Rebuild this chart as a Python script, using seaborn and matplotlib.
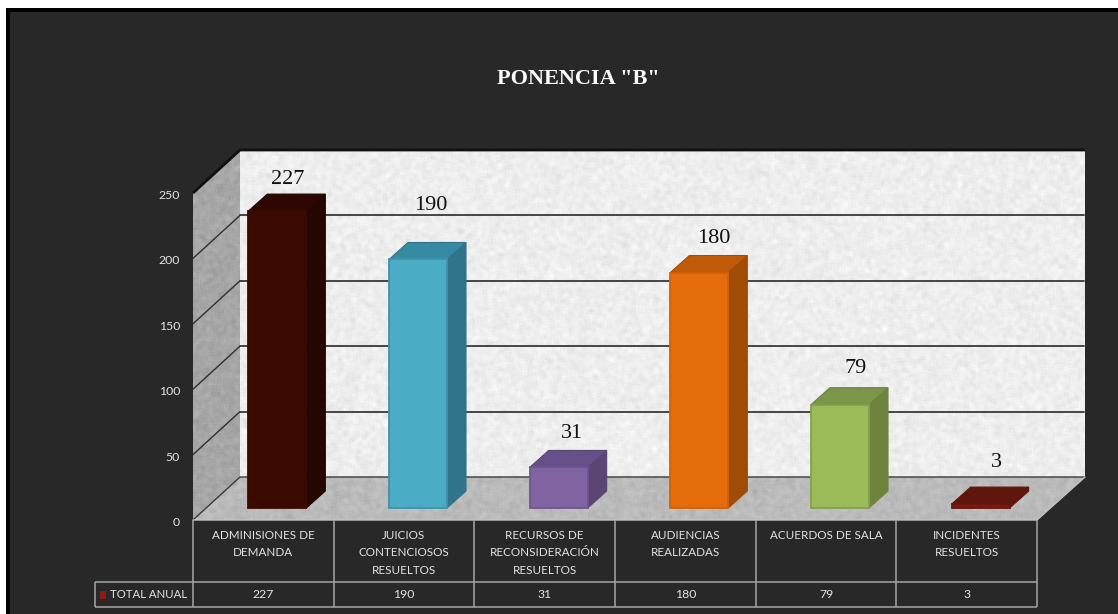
import numpy as np
import pandas as pd
import matplotlib
matplotlib.use("Agg")
import matplotlib.pyplot as plt
from matplotlib.patches import Polygon, Rectangle
from matplotlib.transforms import Affine2D
import seaborn as sns

# ---- data ----
categories = ["ADMINISIONES DE\nDEMANDA", "JUICIOS\nCONTENCIOSOS\nRESUELTOS",
              "RECURSOS DE\nRECONSIDERACIÓN\nRESUELTOS", "AUDIENCIAS\nREALIZADAS",
              "ACUERDOS DE SALA", "INCIDENTES\nRESUELTOS"]
values = [227, 190, 31, 180, 79, 3]
series_name = "TOTAL ANUAL"
title = 'PONENCIA "B"'
y_ticks = [0, 50, 100, 150, 200, 250]

# ---- styles ----
front = ["#3a0a00", "#4bacc6", "#8064a2", "#e46c0a", "#9bbb59", "#7a1a10"]
edges = ["#3a0a00", "#3f93ab", "#6f5590", "#d06208", "#84a04a", "#6a150c"]
side = ["#260600", "#31738a", "#5a4573", "#a04c06", "#6d833e", "#5f170d"]
top = ["#2e0800", "#358ba3", "#66508a", "#c05a08", "#7c9647", "#5f170d"]
label_lift = [32, 54, 34, 34, 36, 42]
label_right = [6, 9, 9, 10, 12, 12]

W, H = 1118, 614
PANEL = "#282828"
LINE = "#a6a6a6"
TXT = "#e4e4e4"
sns.set_theme(style="white")
plt.rcParams["font.family"] = ["Lato", "DejaVu Sans"]

fig = plt.figure(figsize=(W / 100, H / 100), dpi=100, facecolor="white")

# ---- chrome layer in pixel coordinates ----
bg = fig.add_axes([0, 0, 1, 1], zorder=0)
bg.set_xlim(0, W)
bg.set_ylim(H, 0)
bg.axis("off")
bg.add_patch(Rectangle((6, 8), W, H, fc="black", ec="none"))
bg.add_patch(Rectangle((10, 12), W, H, fc=PANEL, ec="none"))


def texture(base, amp, seed):
    rng = np.random.default_rng(seed)
    n = rng.normal(size=(H, W))
    k = np.ones(5) / 5
    n = np.apply_along_axis(lambda r: np.convolve(r, k, mode="same"), 1, n)
    n = np.apply_along_axis(lambda c: np.convolve(c, k, mode="same"), 0, n)
    return np.clip(base + amp * n, 0, 1)


surfaces = [
    ([(240, 150), (1085, 150), (1085, 477), (240, 477)], 0.93, 0.07, 1),
    ([(193, 193), (240, 150), (240, 477), (193, 520)], 0.65, 0.08, 2),
    ([(193, 520), (240, 477), (1085, 477), (1037, 520)], 0.73, 0.07, 3),
]
for pts, base, amp, seed in surfaces:
    im = bg.imshow(texture(base, amp, seed), cmap="gray", vmin=0, vmax=1,
                   extent=(0, W, H, 0), aspect="auto", zorder=1, interpolation="nearest")
    poly = Polygon(pts, closed=True, fc="none", ec="none", transform=bg.transData)
    bg.add_patch(poly)
    im.set_clip_path(poly)
bg.set_xlim(0, W)
bg.set_ylim(H, 0)
bg.plot([193, 240, 1085], [193, 150, 150], color="#101010", lw=2, zorder=3, solid_capstyle="butt")
bg.plot([193, 240, 1085], [520, 477, 477], color="#3a3a3a", lw=1, zorder=3)
bg.plot([193, 1037, 1085], [520, 520, 477], color="#c4c4c4", lw=1, zorder=3)

# ---- chart axes: the front plane of the 3-D box ----
ax = fig.add_axes([193 / W, 1 - 520 / H, (1037 - 193) / W, (520 - 193) / H], zorder=2)
ax.patch.set_alpha(0)
df = pd.DataFrame({"categoria": categories, "valor": values})
sns.barplot(data=df, x="categoria", y="valor", hue="categoria", palette=front,
            legend=False, width=58 / 140.67, saturation=1, ax=ax, zorder=5)
ax.set_xlim(-0.5, 5.5)
ax.set_ylim(0, 250)
ax.set_xlabel("")
ax.set_ylabel("")
for s in ax.spines.values():
    s.set_visible(False)
ax.set_yticks(y_ticks)
ax.tick_params(axis="y", length=0, pad=9.4, labelsize=8.8, labelcolor=TXT)
ax.tick_params(axis="x", length=0, pad=7, labelsize=8.4, labelcolor=TXT)
for t in ax.get_xticklabels():
    t.set_verticalalignment("top")
    t.set_linespacing(1.72)
for t in ax.get_yticklabels():
    t.set_transform(t.get_transform() + Affine2D().translate(0, -1.5))

# gridlines: back wall + side wall, from the same y scale
back = ax.transData + Affine2D().translate(47, 43)
to_fig = fig.transFigure.inverted()
for v in y_ticks[1:-1]:
    ax.plot([-0.5, 5.5], [v, v], color="#383838", lw=1.3, transform=back, clip_on=False, zorder=1)
    y0 = ax.transData.transform((-0.5, v))
    p0 = to_fig.transform(y0)
    p1 = to_fig.transform(y0 + np.array([47, 43]))
    ax.plot([p0[0], p1[0]], [p0[1], p1[1]], color="#303030", lw=1, transform=fig.transFigure,
            clip_on=False, zorder=1)

# 3-D bars: shift the front faces, add side and top faces
bar_tr = ax.transData + Affine2D().translate(14, 12)
DX, DY = 19, 17
ddx = DX / (844 / 6)
ddy = DY / (327 / 250)
for i, bar in enumerate(list(ax.patches)):
    x0, h, w = bar.get_x(), bar.get_height(), bar.get_width()
    bar.set_transform(bar_tr)
    bar.set_edgecolor(edges[i])
    bar.set_linewidth(1.3)
    bar.set_clip_on(False)
    ax.add_patch(Polygon([(x0 + w, 0), (x0 + w + ddx, ddy), (x0 + w + ddx, h + ddy), (x0 + w, h)],
                         fc=side[i], ec=side[i], lw=0.8, transform=bar_tr, clip_on=False, zorder=4))
    ax.add_patch(Polygon([(x0, h), (x0 + ddx, h + ddy), (x0 + w + ddx, h + ddy), (x0 + w, h)],
                         fc=top[i], ec=side[i], lw=0.8, transform=bar_tr, clip_on=False, zorder=4))
    ax.annotate(str(values[i]), xy=(x0 + w, h), xycoords=bar_tr,
                xytext=((label_right[i] - 25) * 0.72, label_lift[i] * 0.72), textcoords="offset points",
                ha="center", va="center", color="#111111", fontsize=16,
                family=["Liberation Serif"], annotation_clip=False, zorder=8)

# ---- data table ----
lines = [([193, 193], [520, 607]), ([1037, 1037], [520, 607]),
         ([95, 1037], [582, 582]), ([95, 1037], [607, 607]),
         ([95, 95], [582, 607])]
for i in range(1, 6):
    xc = 193 + i * 844 / 6
    lines.append(([xc, xc], [520, 607]))
for xs, ys in lines:
    bg.plot(xs, ys, color=LINE, lw=1.1, zorder=3, solid_capstyle="butt")
for i, v in enumerate(values):
    bg.text(193 + (i + 0.5) * 844 / 6, 595, str(v), color=TXT, fontsize=8.8, ha="center", va="center", zorder=4)
bg.add_patch(Rectangle((100, 591), 6, 8, fc="#8a1c14", ec="none", zorder=4))
bg.text(110, 594.5, series_name, color=TXT, fontsize=8.2, ha="left", va="center", zorder=4)

# ---- title ----
bg.text(578, 79, title, color="white", fontsize=16, fontweight="bold", family=["Liberation Serif"],
        ha="center", va="center", zorder=4)

fig.savefig("out.png", dpi=100, facecolor="white")
